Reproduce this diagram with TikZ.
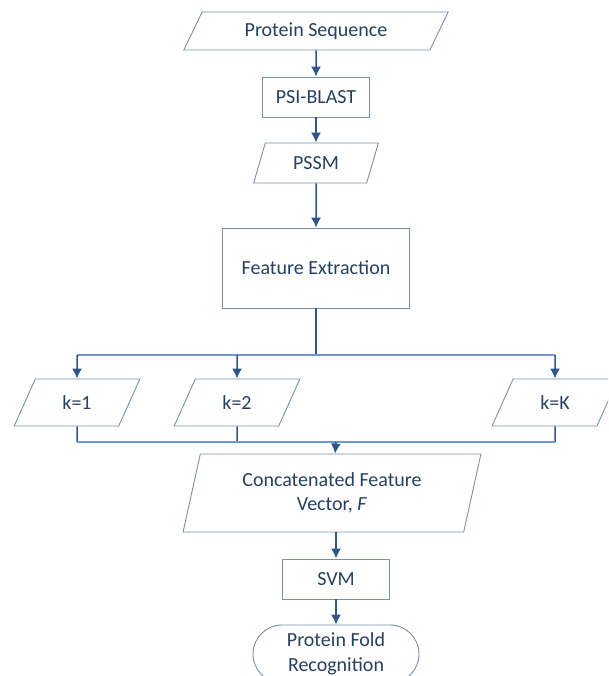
\documentclass[tikz,border=0pt]{standalone}
\usepackage{fontspec}
\setmainfont{Carlito}
\usetikzlibrary{shapes.geometric,shapes.misc,arrows.meta}
\definecolor{edgegray}{RGB}{120,145,172}
\definecolor{textblue}{RGB}{38,64,96}
\definecolor{linkblue}{RGB}{46,86,136}
\definecolor{busblue}{RGB}{112,152,206}
\begin{document}
\begin{tikzpicture}[x=1pt,y=-1pt]
			\tikzstyle{every node}+=[inner sep=0pt,text=textblue,font=\fontsize{20}{24.5}\selectfont,align=center]
			\tikzstyle{procbox}=[draw=edgegray,line width=0.9pt,rectangle]
			\tikzstyle{databox}=[draw=edgegray,line width=0.9pt,trapezium,trapezium stretches=true]
			\tikzstyle{endbox}=[draw=edgegray,line width=0.9pt,rounded rectangle]
			\tikzstyle{link}=[draw=linkblue,line width=1.5pt,-{Latex[length=10pt,width=10pt]}]
			\tikzstyle{tieline}=[draw=linkblue,line width=1.5pt]
			\tikzstyle{bus}=[draw=busblue,line width=1.5pt]
			\clip (0,0) rectangle (608,676);
			\node [databox,trapezium left angle=56,trapezium right angle=124,minimum width=265pt,minimum height=38pt] (seq) at (316,31) {Protein Sequence};
			\node [procbox,minimum width=107pt,minimum height=40pt] (blast) at (316,97) {PSI-BLAST};
			\node [databox,trapezium left angle=68,trapezium right angle=112,minimum width=125pt,minimum height=40pt] (pssm) at (316,163) {PSSM};
			\node [procbox,minimum width=187pt,minimum height=80pt] (feat) at (316,268) {Feature Extraction};
			\node [databox,trapezium left angle=62,trapezium right angle=118,minimum width=126pt,minimum height=47pt] (k1) at (77,402.5) {k=1};
			\node [databox,trapezium left angle=62,trapezium right angle=118,minimum width=126pt,minimum height=47pt] (k2) at (237,402.5) {k=2};
			\node [databox,trapezium left angle=62,trapezium right angle=118,minimum width=126pt,minimum height=47pt] (kK) at (555,402.5) {k=K};
			\node [databox,trapezium left angle=74,trapezium right angle=106,minimum width=298pt,minimum height=78pt] (cat) at (332,493) {Concatenated Feature\\Vector, \textit{F}};
			\node [procbox,minimum width=107pt,minimum height=40pt] (svm) at (336,579) {SVM};
			\node [endbox,minimum width=166pt,minimum height=58pt] (fold) at (336,654) {Protein Fold\\Recognition};
			\coordinate (fork) at (316,355);
			\coordinate (join) at (336,442);
			\draw [link] (seq) -- (blast);
			\draw [link] (blast) -- (pssm);
			\draw [link] (pssm) -- (feat);
			\draw [tieline] (feat) -- (fork);
			\draw [bus] (fork -| k1) -- (fork -| kK);
			\draw [link] (fork -| k1) -- (k1);
			\draw [link] (fork -| k2) -- (k2);
			\draw [link] (fork -| kK) -- (kK);
			\draw [tieline] (k1) -- (join -| k1);
			\draw [tieline] (k2) -- (join -| k2);
			\draw [tieline] (kK) -- (join -| kK);
			\draw [bus] (join -| k1) -- (join -| kK);
			\draw [link] (join) -- (cat);
			\draw [link] (cat.south -| svm) -- (svm);
			\draw [link] (svm) -- (fold);
		\end{tikzpicture}
\end{document}
